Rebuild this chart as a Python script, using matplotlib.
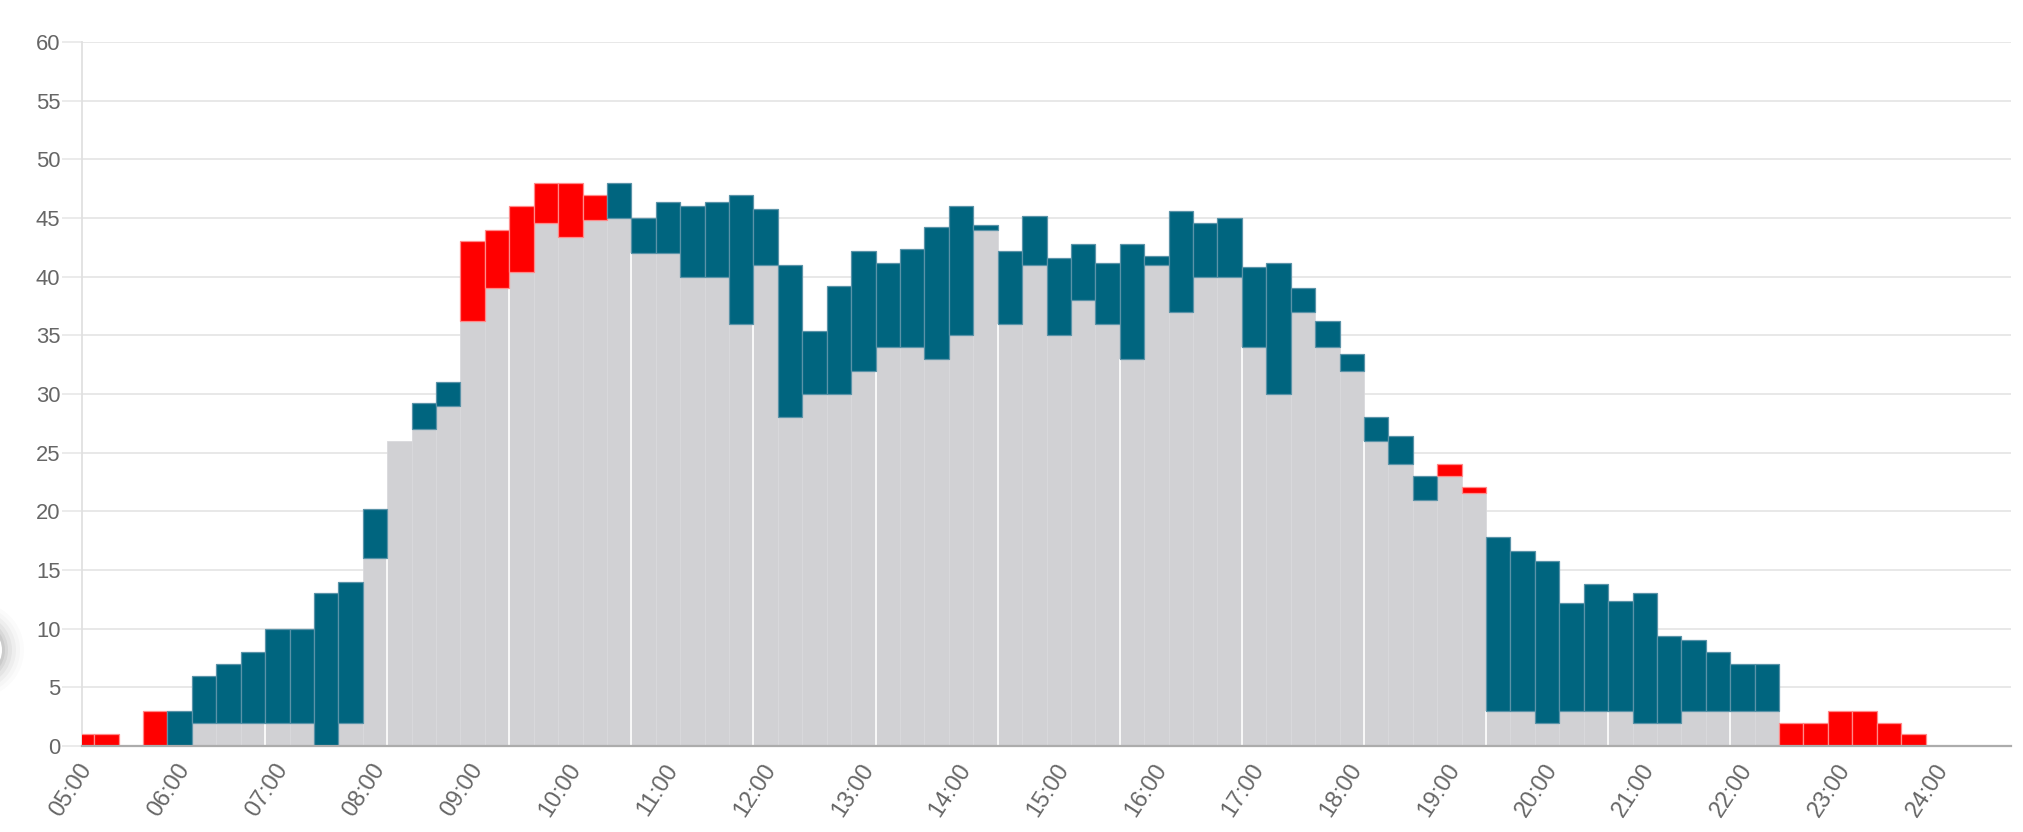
import matplotlib
matplotlib.use("Agg")
import matplotlib.pyplot as plt
from matplotlib.patches import Ellipse
from matplotlib.transforms import ScaledTranslation

# 15-minute slots, 05:00 .. 23:45
slots = ["05:00", "05:15", "05:30", "05:45", "06:00", "06:15", "06:30", "06:45",
         "07:00", "07:15", "07:30", "07:45", "08:00", "08:15", "08:30", "08:45",
         "09:00", "09:15", "09:30", "09:45", "10:00", "10:15", "10:30", "10:45",
         "11:00", "11:15", "11:30", "11:45", "12:00", "12:15", "12:30", "12:45",
         "13:00", "13:15", "13:30", "13:45", "14:00", "14:15", "14:30", "14:45",
         "15:00", "15:15", "15:30", "15:45", "16:00", "16:15", "16:30", "16:45",
         "17:00", "17:15", "17:30", "17:45", "18:00", "18:15", "18:30", "18:45",
         "19:00", "19:15", "19:30", "19:45", "20:00", "20:15", "20:30", "20:45",
         "21:00", "21:15", "21:30", "21:45", "22:00", "22:15", "22:30", "22:45",
         "23:00", "23:15", "23:30", "23:45"]

# grey bars (base level)
base = [0, 0, 0, 0, 0, 2, 2, 2,
        2, 2, 0, 2, 16, 26, 27, 29,
        36.2, 39, 40.4, 44.6, 43.4, 44.8, 45, 42,
        42, 40, 40, 36, 41, 28, 30, 30,
        32, 34, 34, 33, 35, 44, 36, 41,
        35, 38, 36, 33, 41, 37, 40, 40,
        34, 30, 37, 34, 32, 26, 24, 21,
        23, 21.6, 3, 3, 2, 3, 3, 3,
        2, 2, 3, 3, 3, 3, 0, 0,
        0, 0, 0, 0]

# top of the coloured bars (coloured part spans base -> top)
top = [1, 1, 0, 3, 3, 6, 7, 8,
       10, 10, 13, 14, 20.2, 26, 29.2, 31,
       43, 44, 46, 48, 48, 47, 48, 45,
       46.4, 46, 46.4, 47, 45.8, 41, 35.4, 39.2,
       42.2, 41.2, 42.4, 44.2, 46, 44.4, 42.2, 45.2,
       41.6, 42.8, 41.2, 42.8, 41.8, 45.6, 44.6, 45,
       40.8, 41.2, 39, 36.2, 33.4, 28, 26.4, 23,
       24, 22.05, 17.8, 16.6, 15.8, 12.2, 13.8, 12.4,
       13, 9.4, 9, 8, 7, 7, 2, 2,
       3, 3, 2, 1]

# 1 = red (over), 0 = blue
over = [1, 1, 0, 1, 0, 0, 0, 0,
        0, 0, 0, 0, 0, 0, 0, 0,
        1, 1, 1, 1, 1, 1, 0, 0,
        0, 0, 0, 0, 0, 0, 0, 0,
        0, 0, 0, 0, 0, 0, 0, 0,
        0, 0, 0, 0, 0, 0, 0, 0,
        0, 0, 0, 0, 0, 0, 0, 0,
        1, 1, 0, 0, 0, 0, 0, 0,
        0, 0, 0, 0, 0, 0, 1, 1,
        1, 1, 1, 1]

hour_labels = ["05:00", "06:00", "07:00", "08:00", "09:00", "10:00", "11:00",
               "12:00", "13:00", "14:00", "15:00", "16:00", "17:00", "18:00",
               "19:00", "20:00", "21:00", "22:00", "23:00", "24:00"]

GREY = "#d1d1d4"
BLUE = "#00657f"
BLUE_EDGE = "#5a93a8"
RED = "#ff0000"
RED_EDGE = "#ff8a8a"
TXT = "#666666"

plt.rcParams["font.family"] = ["Liberation Sans", "DejaVu Sans"]

W, H = 2023, 832
fig = plt.figure(figsize=(W / 100, H / 100), dpi=100)
ax = fig.add_axes([82 / W, 1 - 746 / H, (2011 - 82) / W, (746 - 42) / H])

def to_hours(s):
    h, m = s.split(":")
    return int(h) + int(m) / 60.0

x = [to_hours(s) for s in slots]
bw = 0.25

gx = [xi for xi, b in zip(x, base) if b > 0]
gh = [b for b in base if b > 0]
ax.bar(gx, gh, width=bw, color=GREY, edgecolor="#d9d9dc", linewidth=0.6, zorder=2)

for xi, b, t, o in zip(x, base, top, over):
    if t > b:
        ax.bar(xi, t - b, bottom=b, width=bw,
               color=RED if o else BLUE,
               edgecolor=RED_EDGE if o else BLUE_EDGE,
               linewidth=0.9, zorder=3)

# pixel-rounding seams of the original renderer: thin white gaps every 5 slots
for i in range(7, len(x) - 1, 5):
    h = min(base[i], base[i + 1])
    if h > 0:
        xb = (x[i] + x[i + 1]) / 2
        ax.vlines(xb, 0, h, colors="white", linewidth=1.2, zorder=2.5)

ax.set_xlim(5, 24.75)
ax.set_ylim(0, 60)

ax.set_yticks(range(0, 61, 5))
ax.yaxis.grid(True, color="#e6e6e6", linewidth=1.3, zorder=0)
ax.set_axisbelow(True)
ax.tick_params(axis="y", length=14.5, width=1.1, color="#e6e6e6", pad=1,
               labelsize=15.8, labelcolor=TXT)

ax.set_xticks([to_hours(h) if h != "24:00" else 24.0 for h in hour_labels])
ax.set_xticklabels(hour_labels, rotation=57, ha="right", va="center",
                   rotation_mode="anchor")
ax.tick_params(axis="x", length=0, pad=14, labelsize=16.8, labelcolor=TXT)
shift = ScaledTranslation(5 / 100, 0, fig.dpi_scale_trans)
for lab in ax.get_xticklabels():
    lab.set_transform(lab.get_transform() + shift)

for s in ["top", "right"]:
    ax.spines[s].set_visible(False)
ax.spines["left"].set_color("#e0e0e0")
ax.spines["left"].set_linewidth(1.3)
ax.spines["bottom"].set_color("#acacac")
ax.spines["bottom"].set_linewidth(1.6)
ax.spines["bottom"].set_zorder(5)

# partially visible floating round button with soft shadow at the left edge
cx, cy = -24, 650
for r, a in [(48, 0.015), (44, 0.02), (40, 0.03), (36, 0.04), (32, 0.05), (29, 0.06)]:
    fig.patches.append(Ellipse((cx / W, 1 - cy / H), 2 * r / W, 2 * r / H,
                               transform=fig.transFigure, facecolor="black",
                               alpha=a, edgecolor="none"))
fig.patches.append(Ellipse((cx / W, 1 - cy / H), 2 * 26 / W, 2 * 26 / H,
                           transform=fig.transFigure, facecolor="white",
                           edgecolor="none"))

fig.savefig("out.png", dpi=100)
